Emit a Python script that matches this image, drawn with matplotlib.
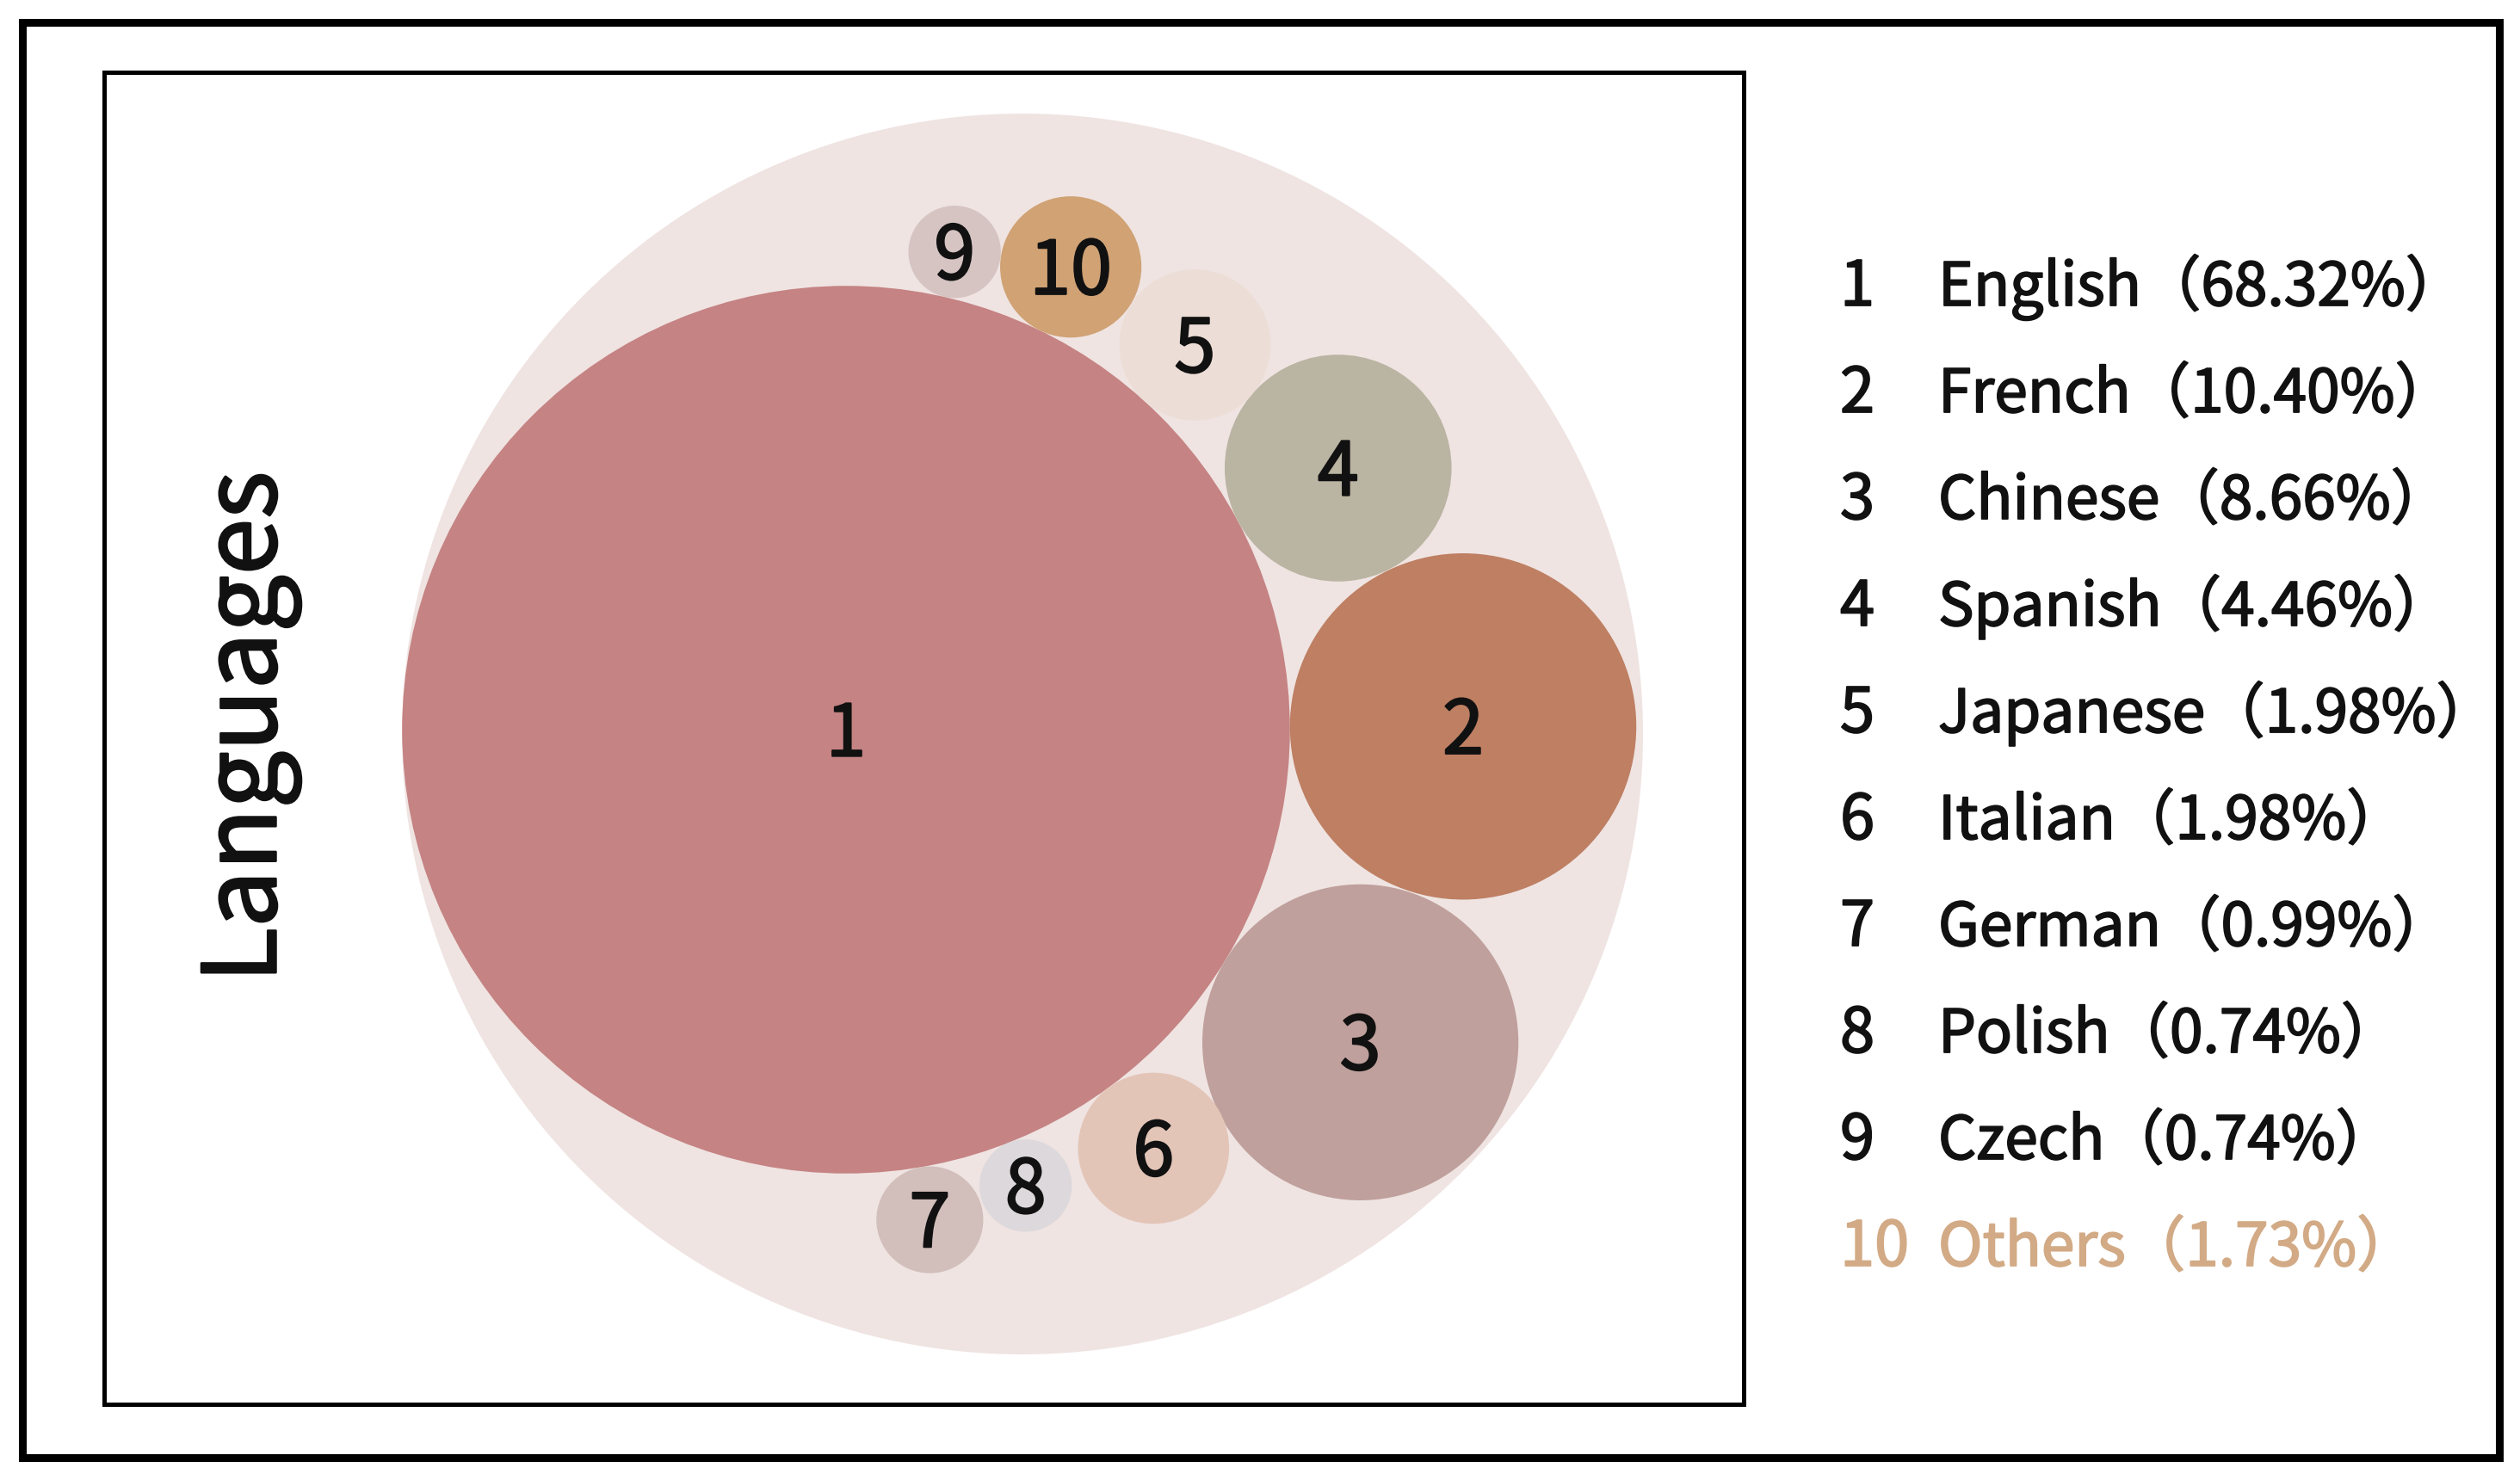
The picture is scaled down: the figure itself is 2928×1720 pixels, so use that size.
import numpy as np
import matplotlib
matplotlib.use("Agg")
import matplotlib.pyplot as plt
import matplotlib.patheffects as pe
from matplotlib.patches import Circle, Rectangle

# ---------------- data ----------------
ranks = [1, 2, 3, 4, 5, 6, 7, 8, 9, 10]
languages = ["English", "French", "Chinese", "Spanish", "Japanese",
             "Italian", "German", "Polish", "Czech", "Others"]
shares = [68.32, 10.40, 8.66, 4.46, 1.98, 1.98, 0.99, 0.74, 0.74, 1.73]
axis_title = "Languages"

# ---------------- styles / layout ----------------
colors = ["#C58383", "#BE7F63", "#BFA09C", "#BAB4A2", "#ECDDD6",
          "#E3C5B8", "#D2BFBB", "#DCD8DB", "#D6C4C3", "#D0A274"]
bg_color = "#EFE4E2"
legend_colors = ["#111111"] * 9 + ["#D2AA85"]
# angle (deg) of each small bubble around bubble 1
angles = [None, 0.3, -31.3, 28.0, 47.8, -53.7, -80.3, -68.5, 77.2, 64.1]

W, H = 2928, 1720
plt.rcParams['font.family'] = ['Noto Sans CJK SC', 'DejaVu Sans']


def thick(color, w=1.3):
    return [pe.withStroke(linewidth=w, foreground=color)]


fig = plt.figure(figsize=(W / 100, H / 100), dpi=100)
ax = fig.add_axes([0, 0, 1, 1])
ax.set_xlim(0, W)
ax.set_ylim(H, 0)
ax.set_aspect('equal')
ax.axis('off')

# frames
ax.add_patch(Rectangle((26, 26), 2878, 1668, fill=False, ec='black', lw=6.5, zorder=1))
ax.add_patch(Rectangle((121, 84), 1905, 1548, fill=False, ec='black', lw=3.6, zorder=1))

# bubble scale: radius proportional to sqrt(share)
k = 62.4
radii = [k * np.sqrt(s) for s in shares]

big_c = (1188, 853)
big_r = 721
ax.add_patch(Circle(big_c, big_r, fc=bg_color, ec='none', zorder=2))

c1 = (983, 848)
centers = [c1]
for i in range(1, len(shares)):
    d = radii[0] + radii[i]
    th = np.deg2rad(angles[i])
    centers.append((c1[0] + d * np.cos(th), c1[1] - d * np.sin(th)))

for i, (c, r) in enumerate(zip(centers, radii)):
    ax.add_patch(Circle(c, r, fc=colors[i], ec='none', zorder=3))
    fs = 62 if i > 0 else 60
    cap = 0.733 * fs / 0.72
    ax.text(c[0], c[1] + cap / 2, str(ranks[i]), ha='center', va='baseline',
            fontsize=fs, color='#111111', zorder=4,
            path_effects=thick('#111111', 1.6))

# axis title (vertical)
ax.text(290, 845, axis_title, rotation=90, ha='center', va='center',
        fontsize=85, color='#111111', path_effects=thick('#111111', 1.8))

# legend
for i in range(len(ranks)):
    y = 355 + 124 * i
    ax.text(2138, y, str(ranks[i]), ha='left', va='baseline', fontsize=52,
            color=legend_colors[i], path_effects=thick(legend_colors[i]))
    ax.text(2252, y, f"{languages[i]}（{shares[i]:.2f}%）", ha='left',
            va='baseline', fontsize=50, color=legend_colors[i],
            path_effects=thick(legend_colors[i]))

fig.savefig("out.png", dpi=100, facecolor='white')
